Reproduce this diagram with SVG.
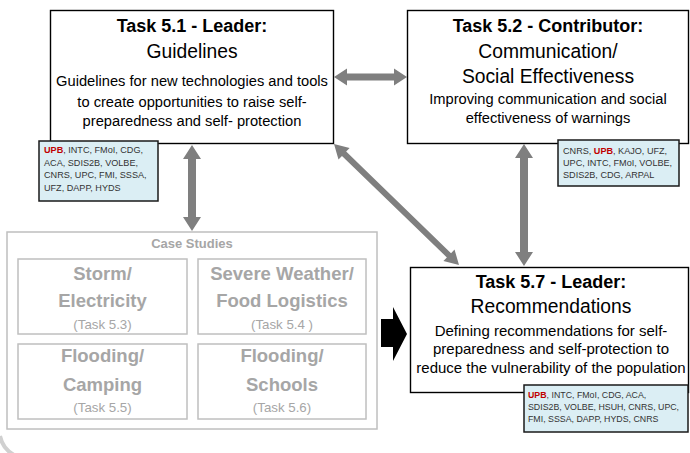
<svg xmlns="http://www.w3.org/2000/svg" width="690" height="453" viewBox="0 0 690 453">
<style>
text{font-family:"Liberation Sans",Arial,sans-serif;}
.box{fill:#fff;stroke:#000;stroke-width:1.4;}
.part{fill:#DBEEF4;stroke:#1a1a1a;stroke-width:1.5;}
.gbox{fill:none;stroke:#BFBFBF;stroke-width:1.5;}
.title{font-size:18px;font-weight:bold;fill:#000;text-anchor:middle;}
.sub{font-size:19.3px;fill:#000;text-anchor:middle;}
.body{font-size:14.7px;fill:#000;text-anchor:middle;}
.pt{font-size:9.1px;fill:#333;}
.red{fill:#C00000;font-weight:bold;}
.cs{font-size:18.5px;font-weight:bold;fill:#A6A6A6;text-anchor:middle;}
.ct{font-size:13.3px;fill:#A6A6A6;text-anchor:middle;}
.arr{fill:#7F7F7F;}
</style>
<rect width="690" height="453" fill="#fff"/>
<path d="M0,436 Q3,450 16,456" fill="none" stroke="#D0D0D0" stroke-width="4"/>

<g id="connectors">
<polygon class="arr" points="334,77 347,68.5 347,73.5 394,73.5 394,68.5 407,77 394,85.5 394,80.5 347,80.5 347,85.5"/>
<polygon class="arr" points="192,145 201,159 196,159 196,217 201,217 192,231 183,217 188,217 188,159 183,159"/>
<polygon class="arr" points="524,144 533,158 528,158 528,252 533,252 524,266 515,252 520,252 520,158 515,158"/>
<g transform="translate(334,144) rotate(44.07)">
<polygon class="arr" points="0,0 14,-8 14,-3 160,-3 160,-8 174,0 160,8 160,3 14,3 14,8"/>
</g>
<polygon fill="#000" points="381,319 393,319 393,307 407,334 393,361 393,347 381,347"/>
</g>

<g id="task51">
<rect class="box" x="50.5" y="10.5" width="283" height="133"/>
<text class="title" x="192" y="32">Task 5.1 - Leader:</text>
<text class="sub" x="192" y="58">Guidelines</text>
<text class="body" x="192" y="86">Guidelines  for new technologies and tools</text>
<text class="body" x="192" y="107">to create opportunities to raise self-</text>
<text class="body" x="192" y="126">preparedness and self- protection</text>
</g>
<g id="partners51">
<rect class="part" x="39" y="141" width="119" height="60"/>
<text class="pt" x="44" y="153"><tspan class="red">UPB</tspan>, INTC, FMoI, CDG,</text>
<text class="pt" x="44" y="166">ACA, SDIS2B, VOLBE,</text>
<text class="pt" x="44" y="178">CNRS, UPC, FMI, SSSA,</text>
<text class="pt" x="44" y="191">UFZ, DAPP, HYDS</text>
</g>

<g id="task52">
<rect class="box" x="407.5" y="10.5" width="281" height="133"/>
<text class="title" x="548" y="32">Task 5.2 - Contributor:</text>
<text class="sub" x="548" y="58">Communication/</text>
<text class="sub" x="548" y="83">Social Effectiveness</text>
<text class="body" x="548" y="104">Improving communication and social</text>
<text class="body" x="548" y="123">effectiveness of warnings</text>
</g>
<g id="partners52">
<rect class="part" x="558" y="140" width="121" height="46"/>
<text class="pt" x="563" y="154">CNRS, <tspan class="red">UPB</tspan>, KAJO, UFZ,</text>
<text class="pt" x="563" y="166">UPC, INTC, FMoI, VOLBE,</text>
<text class="pt" x="563" y="178">SDIS2B, CDG, ARPAL</text>
</g>

<g id="task57">
<rect class="box" x="410.5" y="267.5" width="278" height="125"/>
<text class="title" x="551" y="288">Task 5.7 - Leader:</text>
<text class="sub" x="551" y="313">Recommendations</text>
<text class="body" x="551" y="336" style="font-size:15px">Defining recommendations for self-</text>
<text class="body" x="551" y="354" style="font-size:15px">preparedness and self-protection to</text>
<text class="body" x="551" y="373" style="font-size:15px">reduce the vulnerability of the population</text>
</g>
<g id="partners57">
<rect class="part" x="524" y="385" width="164" height="47"/>
<text class="pt" x="528" y="398" style="font-size:8.8px"><tspan class="red">UPB</tspan>, INTC, FMoI, CDG, ACA,</text>
<text class="pt" x="528" y="410" style="font-size:8.8px">SDIS2B, VOLBE, HSUH, CNRS, UPC,</text>
<text class="pt" x="528" y="422" style="font-size:8.8px">FMI, SSSA, DAPP, HYDS, CNRS</text>
</g>

<g id="casestudies">
<rect class="gbox" x="7" y="232" width="370" height="197"/>
<text x="192" y="248" style="font-size:13px;font-weight:bold;fill:#A6A6A6;text-anchor:middle">Case Studies</text>
</g>
<g id="cs53">
<rect class="gbox" x="18" y="259" width="169" height="75"/>
<text class="cs" x="102.5" y="280">Storm/</text>
<text class="cs" x="102.5" y="307">Electricity</text>
<text class="ct" x="102.5" y="329">(Task 5.3)</text>
</g>
<g id="cs54">
<rect class="gbox" x="198" y="259" width="168" height="75"/>
<text class="cs" x="282" y="280">Severe Weather/</text>
<text class="cs" x="282" y="307">Food Logistics</text>
<text class="ct" x="282" y="329">(Task 5.4 )</text>
</g>
<g id="cs55">
<rect class="gbox" x="18" y="344" width="169" height="75"/>
<text class="cs" x="102.5" y="362">Flooding/</text>
<text class="cs" x="102.5" y="391">Camping</text>
<text class="ct" x="102.5" y="412">(Task 5.5)</text>
</g>
<g id="cs56">
<rect class="gbox" x="198" y="344" width="168" height="75"/>
<text class="cs" x="282" y="362">Flooding/</text>
<text class="cs" x="282" y="391">Schools</text>
<text class="ct" x="282" y="412">(Task 5.6)</text>
</g>
</svg>
